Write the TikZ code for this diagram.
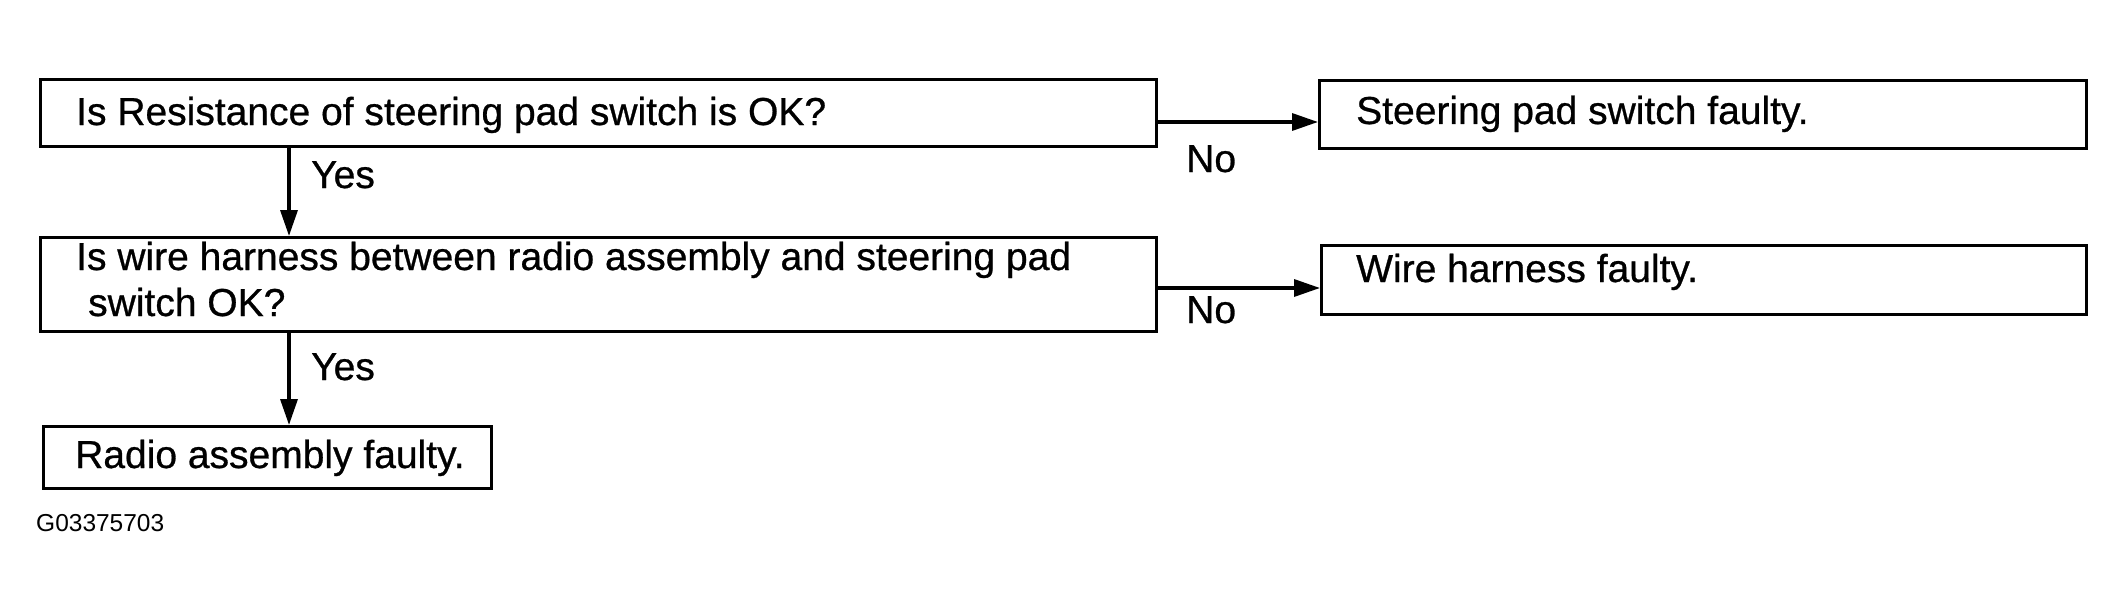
\documentclass[tikz,border=0pt]{standalone}
\usepackage{fontspec}
\setmainfont{Liberation Sans}
\newfontfamily\scanfont{Liberation Sans}[FakeBold=0.7]
\usetikzlibrary{arrows.meta}
\begin{document}
\begin{tikzpicture}[x=1pt,y=-1pt,
  box/.style={draw, line width=2.8pt, inner sep=0pt, anchor=north west},
  txt/.style={anchor=base west, inner sep=0pt, font=\scanfont\fontsize{39pt}{48pt}\selectfont},
  small/.style={anchor=base west, inner sep=0pt, font=\fontsize{24.5pt}{30pt}\selectfont},
  arr/.style={line width=3.4pt, -{Triangle[length=26pt,width=17pt]}}]
\useasboundingbox (0,0) rectangle (2124,607);
% boxes
\node[box, minimum width=1116pt, minimum height=67pt] (b1) at (39,78) {};
\node[box, minimum width=767pt, minimum height=68pt] (b2) at (1318,79) {};
\node[box, minimum width=1116pt, minimum height=94pt] (b3) at (39,236) {};
\node[box, minimum width=765pt, minimum height=69pt] (b4) at (1320,244) {};
\node[box, minimum width=448pt, minimum height=62pt] (b5) at (42,425) {};
% texts
\node[txt] (t1) at (76,125) {Is Resistance of steering pad switch is OK?};
\node[txt] (t2) at (1356,124) {Steering pad switch faulty.};
\node[txt] (t3a) at (76,270) {Is wire harness between radio assembly and steering pad};
\node[txt] (t3b) at (88,316) {switch OK?};
\node[txt] (t4) at (1356,282) {Wire harness faulty.};
\node[txt] (t5) at (75,468) {Radio assembly faulty.};
% connectors
\coordinate (ya) at (289,0);
\coordinate (na1) at (0,122);
\coordinate (na2) at (0,288);
\draw[arr] (b1.south -| ya) -- (b3.north -| ya);
\draw[arr] (b3.south -| ya) -- (b5.north -| ya);
\draw[arr] (b1.east |- na1) -- (b2.west |- na1);
\draw[arr] (b3.east |- na2) -- (b4.west |- na2);
% labels
\node[txt] (y1) at (311,188) {Yes};
\node[txt] (y2) at (311,380) {Yes};
\node[txt] (n1) at (1186,172) {No};
\node[txt] (n2) at (1186,323) {No};
\node[small] (code) at (36,531) {G03375703};
\end{tikzpicture}
\end{document}
